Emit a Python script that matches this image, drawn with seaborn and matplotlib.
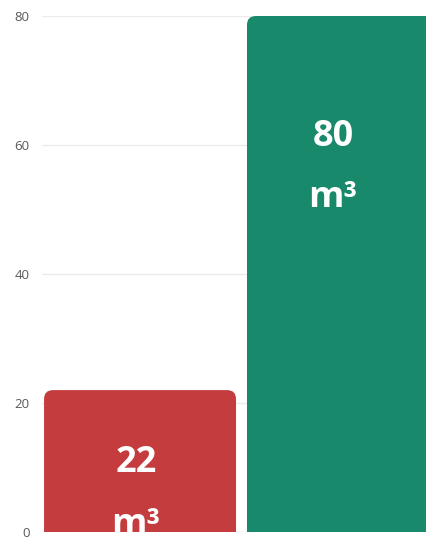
import matplotlib
matplotlib.use("Agg")
import matplotlib.pyplot as plt
import seaborn as sns
import pandas as pd
from matplotlib.patches import FancyBboxPatch

# --- chart data ---
categories = ["A", "B"]
values = [22, 80]
bar_colors = ["#C43C3D", "#18896A"]
unit = "m³"
y_ticks = [0, 20, 40, 60, 80]

df = pd.DataFrame({"cat": categories, "val": values})

sns.set_theme(style="white")
plt.rcParams["font.family"] = ["Open Sans", "DejaVu Sans"]

W, H, DPI = 427, 539, 100
fig = plt.figure(figsize=(W / DPI, H / DPI), dpi=DPI)
# axes placed in pixel terms so the right bar runs off the edge like the original
ax = fig.add_axes([42 / W, 7 / H, 1 - 42 / W, (532 - 16) / H])

sns.barplot(data=df, x="cat", y="val", hue="cat", palette=bar_colors,
            legend=False, width=0.946, ax=ax, saturation=1)

xlim = (-0.483, 1.414)
ax.set_xlim(*xlim)
ax.set_ylim(0, 80)
ax.set_yticks(y_ticks)
ax.set_xticks([])
ax.set_xlabel("")
ax.set_ylabel("")
ax.yaxis.grid(True, color="#EBEBEB", linewidth=1)
ax.set_axisbelow(True)
for s in ax.spines.values():
    s.set_visible(False)
ax.tick_params(axis="y", length=0, pad=9, labelsize=9.5, labelcolor="#595959")

# swap bars for rounded ones (bottom corners pushed below the axis and clipped)
(x0, y0), (x1, y1) = ax.transData.transform([(0, 0), (1, 1)])
aspect = (x1 - x0) / (y1 - y0)
radius = 9 / (x1 - x0)
centers = []
for p in sorted(ax.patches, key=lambda q: q.get_x()):
    x, y, w, h = p.get_x(), p.get_y(), p.get_width(), p.get_height()
    # centre of the visible part of the bar
    centers.append((max(x, xlim[0]) + min(x + w, xlim[1])) / 2 - 0.02)
    extra = 5
    rp = FancyBboxPatch((x, y - extra), w, h + extra,
                        boxstyle=f"round,pad=0,rounding_size={radius}",
                        mutation_aspect=aspect, facecolor=p.get_facecolor(),
                        edgecolor="none", clip_on=True, zorder=2)
    p.remove()
    ax.add_patch(rp)

# value labels: number line and unit line (offsets are layout only)
label_y = [(10.7, 1.1), (61.2, 51.8)]
for i, v in enumerate(values):
    top, bottom = label_y[i]
    ax.text(centers[i], top, f"{v}", ha="center", va="center", color="white",
            fontsize=26, fontweight="bold", clip_on=True, zorder=3)
    ax.text(centers[i], bottom, unit, ha="center", va="center", color="white",
            fontsize=26, fontweight="bold", clip_on=True, zorder=3)

fig.savefig("out.png", dpi=DPI)
